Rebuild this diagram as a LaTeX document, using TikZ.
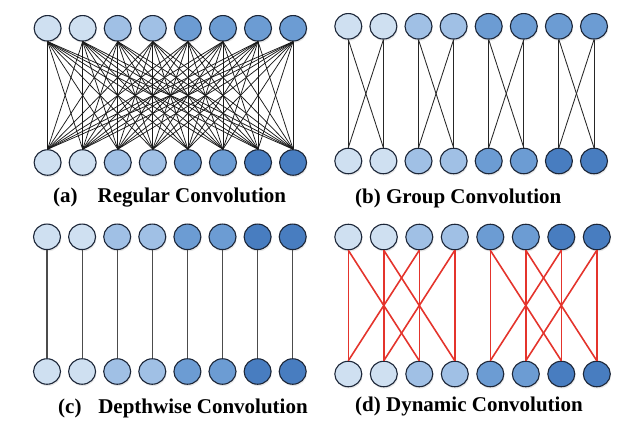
\documentclass[tikz,border=0pt]{standalone}
\usepackage{fontspec}
\setmainfont{Liberation Serif}
\usetikzlibrary{shapes.geometric,shadows}
\definecolor{chlight}{RGB}{207,224,241}
\definecolor{chmid}{RGB}{160,192,229}
\definecolor{chdeep}{RGB}{108,156,211}
\definecolor{chdark}{RGB}{72,125,192}
\definecolor{chline}{RGB}{28,38,56}
\definecolor{dynred}{RGB}{228,52,44}
\tikzset{
  chan/.style={ellipse, draw=chline, line width=1.1pt, inner sep=0pt,
               minimum width=27pt, minimum height=25.5pt,
               drop shadow={opacity=0.18, shadow xshift=0.8pt, shadow yshift=-1.8pt}},
  fulllink/.style={black!90, line width=0.75pt},
  grplink/.style={black!85, line width=0.85pt},
  dwlink/.style={black!70, line width=1.1pt},
  dynlink/.style={dynred, line width=1.6pt},
  caplabel/.style={font=\fontsize{21}{25}\selectfont\bfseries, anchor=base west, inner sep=0pt},
}

\begin{document}
\begin{tikzpicture}[x=1pt, y=-1pt]
  \useasboundingbox (0,0) rectangle (640,433);
  % (a) regular convolution
  \foreach \i/\c in {1/chlight,2/chlight,3/chmid,4/chmid,5/chdeep,6/chdeep,7/chdeep,8/chdeep}
    \node[chan, fill=\c] (at\i) at ({47.6+35.07*(\i-1)},28.3) {};
  \foreach \i/\c in {1/chlight,2/chlight,3/chmid,4/chmid,5/chdeep,6/chdeep,7/chdark,8/chdark}
    \node[chan, fill=\c] (ab\i) at ({47.6+35.07*(\i-1)},162.5) {};
  \foreach \i in {1,...,8}
    \foreach \j in {1,...,8}
      \draw[fulllink] (at\i.south) -- (ab\j.north);
  \node[caplabel] (capa) at (53,202) {(a)\hspace{0.95em}Regular Convolution};

  % (b) group convolution
  \foreach \i/\c in {1/chlight,2/chlight,3/chmid,4/chmid,5/chdeep,6/chdeep,7/chdeep,8/chdeep}
    \node[chan, fill=\c] (bt\i) at ({348.3+35.1*(\i-1)},26.3) {};
  \foreach \i/\c in {1/chlight,2/chlight,3/chmid,4/chmid,5/chdeep,6/chdeep,7/chdark,8/chdark}
    \node[chan, fill=\c] (bb\i) at ({348.3+35.1*(\i-1)},161) {};
  \foreach \g in {0,2,4,6}
    \foreach \a in {1,2}
      \foreach \b in {1,2} {
        \pgfmathtruncatemacro\src{\g+\a}
        \pgfmathtruncatemacro\dst{\g+\b}
        \draw[grplink] (bt\src.south) -- (bb\dst.north);
      }
  \node[caplabel] (capb) at (355,203) {(b) Group Convolution};

  % (c) depthwise convolution
  \foreach \i/\c in {1/chlight,2/chlight,3/chmid,4/chmid,5/chdeep,6/chdeep,7/chdark,8/chdark} {
    \node[chan, fill=\c] (ct\i) at ({47+35.1*(\i-1)},236.8) {};
    \node[chan, fill=\c] (cb\i) at ({47+35.1*(\i-1)},371.5) {};
    \draw[dwlink] (ct\i.south) -- (cb\i.north);
  }
  \node[caplabel] (capc) at (58,413) {(c)\hspace{0.8em}Depthwise Convolution};

  % (d) dynamic convolution
  \foreach \i/\c in {1/chlight,2/chlight,3/chmid,4/chmid,5/chdeep,6/chdeep,7/chdark,8/chdark} {
    \node[chan, fill=\c] (dt\i) at ({348.3+35.5*(\i-1)},237) {};
    \node[chan, fill=\c] (db\i) at ({348.3+35.5*(\i-1)},374) {};
  }
  \foreach \g in {0,4}
    \foreach \a/\b in {1/1,1/3,2/2,2/4,3/1,3/3,4/2,4/4} {
      \pgfmathtruncatemacro\src{\g+\a}
      \pgfmathtruncatemacro\dst{\g+\b}
      \draw[dynlink] (dt\src.south) -- (db\dst.north);
    }
  \node[caplabel] (capd) at (355,411) {(d) Dynamic Convolution};
\end{tikzpicture}
\end{document}
